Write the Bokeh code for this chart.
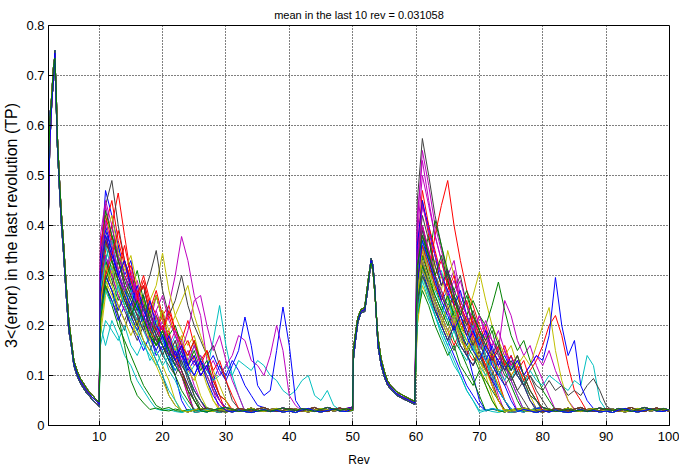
from bokeh.plotting import figure
from bokeh.models import FixedTicker
from bokeh.embed import file_html
from bokeh.resources import INLINE

TITLE = "mean in the last 10 rev = 0.031058"
X_LABEL = "Rev"
Y_LABEL = "3<(error) in the last revolution (TP)"
X_RANGE = (2, 100)
Y_RANGE = (0, 0.8)
X_TICKS = [10, 20, 30, 40, 50, 60, 70, 80, 90, 100]
X_TICK_LABELS = ["10", "20", "30", "40", "50", "60", "70", "80", "90", "100"]
Y_TICKS = [0, 0.1, 0.2, 0.3, 0.4, 0.5, 0.6, 0.7, 0.8]
Y_TICK_LABELS = ["0", "0.1", "0.2", "0.3", "0.4", "0.5", "0.6", "0.7", "0.8"]

COLORS = ["#0000FF", "#008000", "#FF0000", "#00BFBF", "#BF00BF", "#BFBF00", "#404040"]

# first decay (rev 2..10), shared by all runs (three slight variants)
XA = [2.0, 2.2, 2.5, 2.8, 3.0, 3.2, 3.4, 3.7, 4.0, 4.4, 4.8, 5.2, 5.6, 6.0, 6.5, 7.0, 7.5, 8.0, 8.5, 9.0, 9.5, 10.0]
A1 = [0.43, 0.56, 0.64, 0.70, 0.745, 0.66, 0.57, 0.49, 0.42, 0.35, 0.27, 0.20, 0.165, 0.125, 0.105, 0.09, 0.08, 0.07, 0.062, 0.055, 0.05, 0.042]
A2 = [0.52, 0.60, 0.66, 0.72, 0.735, 0.68, 0.58, 0.50, 0.43, 0.36, 0.28, 0.21, 0.17, 0.13, 0.11, 0.095, 0.085, 0.075, 0.066, 0.06, 0.052, 0.047]
A3 = [0.58, 0.62, 0.65, 0.69, 0.75, 0.65, 0.56, 0.48, 0.41, 0.34, 0.26, 0.19, 0.16, 0.12, 0.10, 0.085, 0.075, 0.065, 0.058, 0.05, 0.045, 0.038]

# hump (rev 50..60)
XH = [50.0, 50.1, 50.4, 50.8, 51.3, 51.9, 52.3, 52.6, 52.9, 53.2, 53.5, 54.0, 54.5, 55.0, 55.5, 56.0, 57.0, 58.0, 59.0, 59.8]
H1 = [0.034, 0.14, 0.17, 0.21, 0.228, 0.232, 0.27, 0.30, 0.33, 0.315, 0.27, 0.165, 0.125, 0.102, 0.085, 0.076, 0.063, 0.056, 0.050, 0.045]
H2 = [0.030, 0.15, 0.18, 0.215, 0.232, 0.236, 0.275, 0.305, 0.325, 0.31, 0.265, 0.175, 0.133, 0.108, 0.090, 0.080, 0.067, 0.060, 0.053, 0.048]
H3 = [0.037, 0.13, 0.165, 0.205, 0.225, 0.228, 0.265, 0.295, 0.335, 0.32, 0.275, 0.158, 0.120, 0.097, 0.081, 0.072, 0.060, 0.053, 0.047, 0.042]

# converged floor values (one per rev offset 0..40)
F0 = [0.032, 0.030, 0.034, 0.031, 0.029, 0.033, 0.030, 0.028, 0.032, 0.035,
      0.031, 0.029, 0.033, 0.030, 0.027, 0.031, 0.034, 0.030, 0.028, 0.032,
      0.030, 0.033, 0.029, 0.031, 0.035, 0.030, 0.028, 0.032, 0.034, 0.029,
      0.031, 0.033, 0.030, 0.027, 0.031, 0.034, 0.032, 0.029, 0.031, 0.033,
      0.030]
F1 = [0.028, 0.033, 0.030, 0.027, 0.031, 0.029, 0.034, 0.031, 0.028, 0.030,
      0.033, 0.036, 0.030, 0.028, 0.032, 0.029, 0.031, 0.035, 0.032, 0.029,
      0.027, 0.030, 0.034, 0.032, 0.029, 0.033, 0.036, 0.031, 0.028, 0.030,
      0.034, 0.031, 0.029, 0.033, 0.036, 0.030, 0.028, 0.032, 0.035, 0.031,
      0.029]
F2 = [0.035, 0.031, 0.028, 0.033, 0.036, 0.032, 0.029, 0.027, 0.031, 0.028,
      0.026, 0.030, 0.034, 0.031, 0.029, 0.026, 0.028, 0.032, 0.029, 0.026,
      0.030, 0.027, 0.031, 0.028, 0.026, 0.029, 0.032, 0.028, 0.030, 0.027,
      0.029, 0.026, 0.031, 0.034, 0.029, 0.027, 0.030, 0.033, 0.029, 0.028,
      0.032]
F3 = [0.030, 0.027, 0.031, 0.035, 0.032, 0.028, 0.031, 0.034, 0.037, 0.033,
      0.030, 0.032, 0.028, 0.026, 0.030, 0.033, 0.029, 0.027, 0.031, 0.034,
      0.036, 0.032, 0.028, 0.030, 0.033, 0.029, 0.031, 0.028, 0.032, 0.035,
      0.032, 0.030, 0.034, 0.031, 0.028, 0.032, 0.036, 0.033, 0.030, 0.034,
      0.031]

# per-run transient after rev 10 (values at rev 10.2, 11, 12, ...)
B_SEGS = [
    [0.32, 0.47, 0.42, 0.36, 0.30, 0.33, 0.26, 0.24, 0.20, 0.22, 0.17, 0.14, 0.10, 0.05],
    [0.25, 0.36, 0.40, 0.33, 0.28, 0.25, 0.22, 0.25, 0.19, 0.16, 0.18, 0.14, 0.12, 0.15, 0.10, 0.06],
    [0.28, 0.35, 0.40, 0.465, 0.38, 0.30, 0.26, 0.28, 0.22, 0.20, 0.17, 0.19, 0.13, 0.10, 0.06],
    [0.20, 0.16, 0.21, 0.18, 0.14, 0.12, 0.09, 0.07, 0.05],
    [0.30, 0.38, 0.33, 0.29, 0.26, 0.22, 0.25, 0.20, 0.18, 0.21, 0.19, 0.24, 0.30, 0.378, 0.33, 0.26, 0.22, 0.13, 0.07],
    [0.22, 0.30, 0.36, 0.31, 0.26, 0.29, 0.24, 0.21, 0.25, 0.28, 0.345, 0.27, 0.22, 0.19, 0.16, 0.18, 0.13, 0.09, 0.05],
    [0.35, 0.44, 0.49, 0.40, 0.33, 0.29, 0.25, 0.28, 0.22, 0.19, 0.23, 0.17, 0.15, 0.11, 0.07],
    [0.26, 0.34, 0.30, 0.36, 0.30, 0.27, 0.24, 0.20, 0.23, 0.18, 0.16, 0.13, 0.15, 0.11, 0.08, 0.05],
    [0.24, 0.30, 0.27, 0.22, 0.16, 0.09, 0.06, 0.045],
    [0.30, 0.38, 0.34, 0.31, 0.36, 0.30, 0.25, 0.28, 0.23, 0.27, 0.22, 0.24, 0.19, 0.17, 0.21, 0.16, 0.13, 0.15, 0.10, 0.06],
    [0.22, 0.28, 0.32, 0.27, 0.24, 0.21, 0.25, 0.20, 0.18, 0.22, 0.17, 0.15, 0.18, 0.14, 0.12, 0.16, 0.13, 0.11, 0.17, 0.24, 0.16, 0.10, 0.06],
    [0.35, 0.44, 0.38, 0.33, 0.28, 0.31, 0.26, 0.23, 0.20, 0.26, 0.21, 0.18, 0.14, 0.17, 0.12, 0.08, 0.05],
    [0.18, 0.26, 0.32, 0.28, 0.25, 0.22, 0.19, 0.22, 0.17, 0.15, 0.12, 0.09, 0.05],
    [0.20, 0.28, 0.25, 0.22, 0.19, 0.24, 0.21, 0.26, 0.30, 0.35, 0.27, 0.22, 0.25, 0.30, 0.24, 0.20, 0.17, 0.14, 0.16, 0.12, 0.09, 0.05],
    [0.28, 0.40, 0.35, 0.30, 0.33, 0.27, 0.23, 0.26, 0.21, 0.18, 0.20, 0.15, 0.12, 0.14, 0.10, 0.07, 0.05],
    [0.25, 0.33, 0.38, 0.34, 0.30, 0.27, 0.31, 0.25, 0.22, 0.26, 0.21, 0.18, 0.20, 0.16, 0.14, 0.17, 0.13, 0.10, 0.07, 0.05],
    [0.33, 0.40, 0.45, 0.37, 0.32, 0.28, 0.25, 0.29, 0.24, 0.21, 0.19, 0.22, 0.18, 0.15, 0.17, 0.13, 0.10, 0.12, 0.08, 0.05],
    [0.30, 0.36, 0.31, 0.28, 0.24, 0.27, 0.23, 0.20, 0.18, 0.21, 0.17, 0.14, 0.16, 0.12, 0.10, 0.07, 0.05],
    [0.26, 0.31, 0.35, 0.30, 0.26, 0.23, 0.27, 0.22, 0.19, 0.23, 0.26, 0.21, 0.18, 0.15, 0.19, 0.25, 0.26, 0.20, 0.15, 0.18, 0.13, 0.09, 0.06],
    [0.24, 0.29, 0.26, 0.23, 0.27, 0.22, 0.19, 0.22, 0.18, 0.16, 0.19, 0.14, 0.12, 0.15, 0.11, 0.09, 0.12, 0.08, 0.05],
    [0.28, 0.33, 0.30, 0.26, 0.23, 0.20, 0.17, 0.20, 0.16, 0.13, 0.10, 0.06, 0.04],
    [0.22, 0.28, 0.25, 0.21, 0.24, 0.20, 0.18, 0.15, 0.18, 0.14, 0.16, 0.13, 0.11, 0.14, 0.12, 0.10, 0.13, 0.11, 0.09, 0.12, 0.10, 0.13, 0.11, 0.08, 0.06, 0.04],
    [0.26, 0.33, 0.29, 0.25, 0.28, 0.23, 0.20, 0.24, 0.19, 0.16, 0.19, 0.15, 0.13, 0.16, 0.12, 0.15, 0.11, 0.13, 0.09, 0.06, 0.05],
    [0.30, 0.37, 0.33, 0.29, 0.25, 0.22, 0.26, 0.21, 0.19, 0.17, 0.20, 0.16, 0.13, 0.16, 0.12, 0.14, 0.10, 0.12, 0.09, 0.06, 0.05],
    [0.16, 0.21, 0.19, 0.17, 0.20, 0.16, 0.14, 0.17, 0.13, 0.15, 0.12, 0.14, 0.11, 0.13, 0.10, 0.12, 0.14, 0.11, 0.09, 0.10,
     0.12, 0.10, 0.13, 0.12, 0.11, 0.13, 0.12, 0.10, 0.09, 0.07, 0.06, 0.07, 0.09, 0.10, 0.06, 0.05, 0.07, 0.04],
    [0.27, 0.34, 0.30, 0.26, 0.23, 0.26, 0.22, 0.19, 0.17, 0.20, 0.16, 0.14, 0.17, 0.13, 0.15, 0.12, 0.14, 0.11, 0.13, 0.10,
     0.12, 0.14, 0.18, 0.17, 0.13, 0.12, 0.10, 0.14, 0.20, 0.15, 0.06, 0.04],
    [0.20, 0.27, 0.31, 0.27, 0.24, 0.21, 0.18, 0.21, 0.17, 0.20, 0.23, 0.19, 0.22, 0.25, 0.28, 0.22, 0.18, 0.14, 0.11, 0.08, 0.05],
    [0.23, 0.30, 0.27, 0.24, 0.21, 0.24, 0.20, 0.17, 0.15, 0.18, 0.14, 0.12, 0.10, 0.13, 0.09, 0.06, 0.04],
    [0.24, 0.30, 0.27, 0.23, 0.26, 0.22, 0.19, 0.22, 0.18, 0.15, 0.18, 0.14, 0.12, 0.15, 0.11, 0.13, 0.10, 0.12, 0.14, 0.11,
     0.09, 0.12, 0.15, 0.217, 0.16, 0.08, 0.06, 0.07, 0.15, 0.237, 0.16, 0.05],
    [0.22, 0.28, 0.24, 0.20, 0.17, 0.14, 0.11, 0.08, 0.06, 0.04],
    [0.36, 0.42, 0.37, 0.33, 0.29, 0.32, 0.27, 0.24, 0.21, 0.19, 0.22, 0.17, 0.14, 0.11, 0.07, 0.05],
    [0.27, 0.33, 0.37, 0.31, 0.27, 0.24, 0.21, 0.19, 0.16, 0.13, 0.10, 0.07, 0.05],
    [0.38, 0.45, 0.40, 0.34, 0.30, 0.26, 0.29, 0.24, 0.21, 0.18, 0.21, 0.16, 0.13, 0.10, 0.06],
    [0.30, 0.38, 0.42, 0.35, 0.31, 0.34, 0.28, 0.25, 0.22, 0.26, 0.21, 0.18, 0.15, 0.18, 0.13, 0.10, 0.06],
    [0.26, 0.31, 0.28, 0.33, 0.28, 0.25, 0.22, 0.19, 0.23, 0.19, 0.16, 0.14, 0.17, 0.12, 0.10, 0.07, 0.05],
    [0.34, 0.39, 0.35, 0.30, 0.27, 0.24, 0.28, 0.23, 0.20, 0.17, 0.15, 0.18, 0.14, 0.16, 0.12, 0.14, 0.10, 0.12, 0.08, 0.05],
    [0.30, 0.43, 0.38, 0.33, 0.29, 0.26, 0.23, 0.26, 0.21, 0.18, 0.16, 0.13, 0.10, 0.07, 0.05],
    [0.25, 0.30, 0.34, 0.39, 0.33, 0.29, 0.26, 0.30, 0.25, 0.22, 0.19, 0.23, 0.19, 0.16, 0.14, 0.17, 0.12, 0.15, 0.11, 0.13, 0.09, 0.06],
    [0.22, 0.27, 0.24, 0.28, 0.24, 0.21, 0.19, 0.16, 0.14, 0.12, 0.15, 0.11, 0.09, 0.06, 0.04],
    [0.32, 0.41, 0.36, 0.31, 0.27, 0.30, 0.25, 0.22, 0.19, 0.23, 0.19, 0.16, 0.19, 0.15, 0.13, 0.16, 0.12, 0.10, 0.07, 0.05],
    [0.24, 0.32, 0.28, 0.24, 0.21, 0.18, 0.21, 0.17, 0.15, 0.12, 0.09, 0.06, 0.04],
    [0.29, 0.37, 0.33, 0.29, 0.26, 0.23, 0.20, 0.24, 0.20, 0.17, 0.14, 0.17, 0.13, 0.11, 0.08, 0.05],
    [0.31, 0.38, 0.34, 0.30, 0.33, 0.28, 0.24, 0.21, 0.25, 0.20, 0.18, 0.15, 0.13, 0.16, 0.12, 0.10, 0.13, 0.09, 0.06, 0.04],
    [0.21, 0.29, 0.33, 0.29, 0.25, 0.22, 0.25, 0.21, 0.18, 0.16, 0.19, 0.15, 0.12, 0.10, 0.07, 0.05],
]

# per-run transient after rev 60 (values at rev 60.2, 61, 62, ...)
D_SEGS = [
    [0.28, 0.40, 0.34, 0.30, 0.25, 0.27, 0.21, 0.18, 0.15, 0.10, 0.05],
    [0.22, 0.33, 0.38, 0.30, 0.27, 0.24, 0.26, 0.20, 0.18, 0.21, 0.16, 0.14, 0.11, 0.08, 0.05],
    [0.30, 0.45, 0.38, 0.32, 0.28, 0.30, 0.24, 0.20, 0.22, 0.17, 0.15, 0.12, 0.08, 0.05],
    [0.25, 0.32, 0.26, 0.22, 0.18, 0.15, 0.12, 0.10, 0.07, 0.05],
    [0.40, 0.55, 0.48, 0.40, 0.35, 0.30, 0.33, 0.26, 0.24, 0.20, 0.17, 0.14, 0.10, 0.06],
    [0.20, 0.30, 0.27, 0.33, 0.30, 0.25, 0.22, 0.19, 0.21, 0.16, 0.13, 0.10, 0.06],
    [0.45, 0.574, 0.50, 0.42, 0.36, 0.30, 0.27, 0.30, 0.24, 0.20, 0.17, 0.13, 0.09, 0.05],
    [0.35, 0.44, 0.40, 0.34, 0.28, 0.31, 0.26, 0.22, 0.19, 0.16, 0.18, 0.14, 0.11, 0.07, 0.05],
    [0.30, 0.38, 0.33, 0.28, 0.24, 0.21, 0.17, 0.15, 0.12, 0.09, 0.06],
    [0.28, 0.35, 0.30, 0.38, 0.44, 0.49, 0.40, 0.33, 0.27, 0.24, 0.20, 0.17, 0.13, 0.09, 0.05],
    [0.25, 0.33, 0.29, 0.25, 0.22, 0.26, 0.20, 0.18, 0.15, 0.17, 0.13, 0.11, 0.14, 0.10, 0.13, 0.09, 0.06],
    [0.42, 0.53, 0.45, 0.38, 0.33, 0.28, 0.31, 0.25, 0.22, 0.19, 0.16, 0.19, 0.14, 0.12, 0.09, 0.06],
    [0.20, 0.28, 0.25, 0.30, 0.27, 0.35, 0.30, 0.24, 0.20, 0.22, 0.17, 0.14, 0.11, 0.08, 0.05],
    [0.25, 0.30, 0.27, 0.23, 0.20, 0.23, 0.19, 0.16, 0.14, 0.17, 0.13, 0.11, 0.14, 0.10, 0.12, 0.09, 0.11, 0.08, 0.10, 0.07, 0.05],
    [0.26, 0.33, 0.28, 0.24, 0.20, 0.17, 0.14, 0.11, 0.08, 0.06, 0.04],
    [0.30, 0.36, 0.33, 0.41, 0.36, 0.31, 0.27, 0.24, 0.27, 0.22, 0.19, 0.16, 0.19, 0.14, 0.11, 0.08, 0.05],
    [0.30, 0.40, 0.35, 0.30, 0.33, 0.28, 0.25, 0.22, 0.25, 0.20, 0.17, 0.20, 0.15, 0.13, 0.16, 0.12, 0.14, 0.10, 0.07, 0.05],
    [0.28, 0.36, 0.31, 0.27, 0.24, 0.21, 0.24, 0.19, 0.17, 0.15, 0.18, 0.14, 0.12, 0.10, 0.13, 0.09, 0.12, 0.08, 0.06, 0.05],
    [0.30, 0.38, 0.34, 0.29, 0.26, 0.23, 0.20, 0.24, 0.21, 0.18, 0.22, 0.19, 0.17, 0.15, 0.25, 0.22, 0.17, 0.14, 0.16, 0.12, 0.09, 0.06],
    [0.22, 0.30, 0.26, 0.23, 0.20, 0.24, 0.21, 0.18, 0.22, 0.26, 0.307, 0.25, 0.20, 0.17, 0.14, 0.16, 0.12, 0.09, 0.06],
    [0.26, 0.32, 0.28, 0.25, 0.21, 0.18, 0.15, 0.18, 0.14, 0.12, 0.14, 0.11, 0.09, 0.11, 0.08, 0.10, 0.07, 0.09, 0.06, 0.05],
    [0.24, 0.31, 0.27, 0.23, 0.20, 0.17, 0.20, 0.16, 0.14, 0.12, 0.15, 0.11, 0.09, 0.07, 0.05],
    [0.28, 0.34, 0.30, 0.26, 0.23, 0.20, 0.23, 0.19, 0.22, 0.25, 0.22, 0.20, 0.24, 0.287, 0.23, 0.18, 0.15, 0.17, 0.13, 0.10, 0.07, 0.05],
    [0.26, 0.33, 0.29, 0.25, 0.22, 0.19, 0.16, 0.19, 0.15, 0.13, 0.15, 0.12, 0.14, 0.11, 0.13, 0.10, 0.12, 0.09, 0.11, 0.13,
     0.16, 0.20, 0.22, 0.18, 0.12, 0.07, 0.05],
    [0.24, 0.30, 0.26, 0.22, 0.19, 0.16, 0.19, 0.15, 0.13, 0.16, 0.12, 0.10, 0.13, 0.11, 0.09, 0.12, 0.10, 0.08, 0.11, 0.09,
     0.08, 0.10, 0.09, 0.08, 0.07, 0.09, 0.08, 0.14, 0.12, 0.05],
    [0.32, 0.40, 0.35, 0.30, 0.27, 0.23, 0.20, 0.24, 0.20, 0.17, 0.15, 0.18, 0.14, 0.12, 0.15, 0.11, 0.13, 0.10, 0.12, 0.14,
     0.12, 0.15, 0.11, 0.08, 0.05],
    [0.26, 0.31, 0.28, 0.24, 0.21, 0.18, 0.21, 0.17, 0.15, 0.18, 0.14, 0.12, 0.15, 0.11, 0.13, 0.10, 0.12, 0.14, 0.12, 0.16,
     0.20, 0.236, 0.15, 0.09, 0.05],
    [0.24, 0.30, 0.27, 0.23, 0.20, 0.17, 0.20, 0.16, 0.14, 0.12, 0.15, 0.11, 0.10, 0.13, 0.10, 0.09, 0.11, 0.08, 0.10, 0.08,
     0.07, 0.09, 0.07, 0.08, 0.06, 0.07, 0.06, 0.08, 0.094, 0.07, 0.04],
    [0.26, 0.33, 0.29, 0.25, 0.22, 0.19, 0.22, 0.18, 0.16, 0.19, 0.15, 0.13, 0.16, 0.12, 0.14, 0.11, 0.13, 0.10, 0.12, 0.14,
     0.13, 0.18, 0.296, 0.20, 0.14, 0.17, 0.08, 0.05],
    [0.22, 0.27, 0.24, 0.20, 0.17, 0.14, 0.16, 0.12, 0.10, 0.08, 0.11, 0.09, 0.07, 0.05],
    [0.35, 0.47, 0.40, 0.35, 0.30, 0.27, 0.30, 0.24, 0.21, 0.18, 0.15, 0.12, 0.08, 0.05],
    [0.30, 0.37, 0.32, 0.28, 0.31, 0.26, 0.22, 0.19, 0.17, 0.20, 0.15, 0.13, 0.10, 0.07, 0.05],
    [0.38, 0.50, 0.44, 0.38, 0.33, 0.29, 0.26, 0.29, 0.24, 0.21, 0.18, 0.21, 0.17, 0.14, 0.12, 0.09, 0.06],
    [0.27, 0.35, 0.31, 0.27, 0.30, 0.26, 0.23, 0.20, 0.17, 0.15, 0.12, 0.08, 0.05],
    [0.33, 0.42, 0.37, 0.32, 0.28, 0.31, 0.26, 0.23, 0.20, 0.23, 0.19, 0.16, 0.14, 0.17, 0.12, 0.10, 0.07, 0.05],
    [0.36, 0.45, 0.39, 0.34, 0.30, 0.27, 0.24, 0.27, 0.22, 0.19, 0.16, 0.19, 0.15, 0.13, 0.11, 0.14, 0.10, 0.08, 0.05],
    [0.25, 0.32, 0.29, 0.26, 0.23, 0.26, 0.22, 0.19, 0.16, 0.14, 0.11, 0.08, 0.05],
    [0.29, 0.36, 0.32, 0.28, 0.25, 0.29, 0.24, 0.21, 0.18, 0.22, 0.18, 0.15, 0.13, 0.16, 0.12, 0.14, 0.11, 0.13, 0.09, 0.06],
    [0.22, 0.29, 0.25, 0.22, 0.19, 0.16, 0.13, 0.10, 0.07, 0.05],
    [0.33, 0.44, 0.39, 0.34, 0.30, 0.26, 0.29, 0.25, 0.22, 0.19, 0.22, 0.18, 0.16, 0.19, 0.15, 0.12, 0.14, 0.10, 0.07, 0.05],
    [0.26, 0.33, 0.29, 0.25, 0.22, 0.19, 0.22, 0.18, 0.15, 0.17, 0.13, 0.11, 0.08, 0.05],
    [0.31, 0.39, 0.34, 0.30, 0.26, 0.23, 0.26, 0.22, 0.19, 0.16, 0.19, 0.15, 0.13, 0.15, 0.11, 0.13, 0.10, 0.08, 0.05],
    [0.28, 0.37, 0.33, 0.29, 0.25, 0.22, 0.19, 0.22, 0.18, 0.15, 0.13, 0.16, 0.12, 0.10, 0.08, 0.05],
    [0.32, 0.38, 0.34, 0.30, 0.34, 0.29, 0.25, 0.22, 0.26, 0.22, 0.19, 0.17, 0.20, 0.16, 0.13, 0.11, 0.14, 0.10, 0.07, 0.05],
]

A_VARIANTS = [A1, A2, A3]
H_VARIANTS = [H1, H2, H3]
FLOORS = [F0, F1, F2, F3]


def build_run(i):
    a = A_VARIANTS[i % 3]
    h = H_VARIANTS[i % 3]
    f = FLOORS[i % 4]
    b = B_SEGS[i]
    d = D_SEGS[i]
    xs = list(XA)
    ys = list(a)
    xs += [10.2] + [10 + k for k in range(1, len(b))]
    ys += list(b)
    for k in range(len(b), 40):
        xs.append(10 + k)
        ys.append(f[k])
    xs += list(XH)
    ys += list(h)
    xs += [60.2] + [60 + k for k in range(1, len(d))]
    ys += list(d)
    for k in range(len(d), 41):
        xs.append(60 + k)
        ys.append(f[k])
    return xs, ys


p = figure(width=679, height=471, x_range=X_RANGE, y_range=Y_RANGE,
           output_backend="svg", toolbar_location=None, title=TITLE,
           min_border_left=47, min_border_right=10, min_border_top=25, min_border_bottom=46)
p.background_fill_color = "white"
p.border_fill_color = "white"
p.outline_line_color = "black"
p.outline_line_width = 1

p.title.align = "center"
p.title.vertical_align = "top"
p.title.text_font = "Liberation Sans"
p.title.text_font_size = "11px"
p.title.text_font_style = "normal"
p.title.text_color = "black"
p.title.standoff = 5
p.title.offset = 0

xs_all, ys_all, cols = [], [], []
for i in range(len(B_SEGS)):
    xs, ys = build_run(i)
    xs_all.append(xs)
    ys_all.append(ys)
    cols.append(COLORS[i % len(COLORS)])
p.multi_line(xs_all, ys_all, line_color=cols, line_width=1)

p.xaxis.ticker = FixedTicker(ticks=X_TICKS)
p.yaxis.ticker = FixedTicker(ticks=Y_TICKS)
p.xaxis.major_label_overrides = {t: s for t, s in zip(X_TICKS, X_TICK_LABELS)}
p.yaxis.major_label_overrides = {t: s for t, s in zip(Y_TICKS, Y_TICK_LABELS)}

for ax in (p.xaxis[0], p.yaxis[0]):
    ax.axis_line_color = "black"
    ax.major_tick_line_color = "black"
    ax.major_tick_in = 5
    ax.major_tick_out = 0
    ax.minor_tick_in = 0
    ax.minor_tick_out = 0
    ax.major_label_text_font = "Liberation Sans"
    ax.major_label_text_font_size = "13px"
    ax.major_label_text_color = "black"
    ax.axis_label_text_font = "Liberation Sans"
    ax.axis_label_text_font_style = "normal"
    ax.axis_label_text_color = "black"

p.xaxis.axis_label = X_LABEL
p.xaxis.axis_label_text_font_size = "12px"
p.xaxis.major_label_standoff = 6
p.xaxis.axis_label_standoff = 9
p.yaxis.axis_label = Y_LABEL
p.yaxis.axis_label_text_font_size = "16px"
p.yaxis.major_label_standoff = 4
p.yaxis.axis_label_standoff = 3

p.xgrid.grid_line_color = "black"
p.ygrid.grid_line_color = "black"
p.xgrid.grid_line_dash = "1 2"
p.ygrid.grid_line_dash = "1 2"
p.xgrid.grid_line_width = 1
p.ygrid.grid_line_width = 1

open("out.html", "w").write(file_html(p, INLINE))
